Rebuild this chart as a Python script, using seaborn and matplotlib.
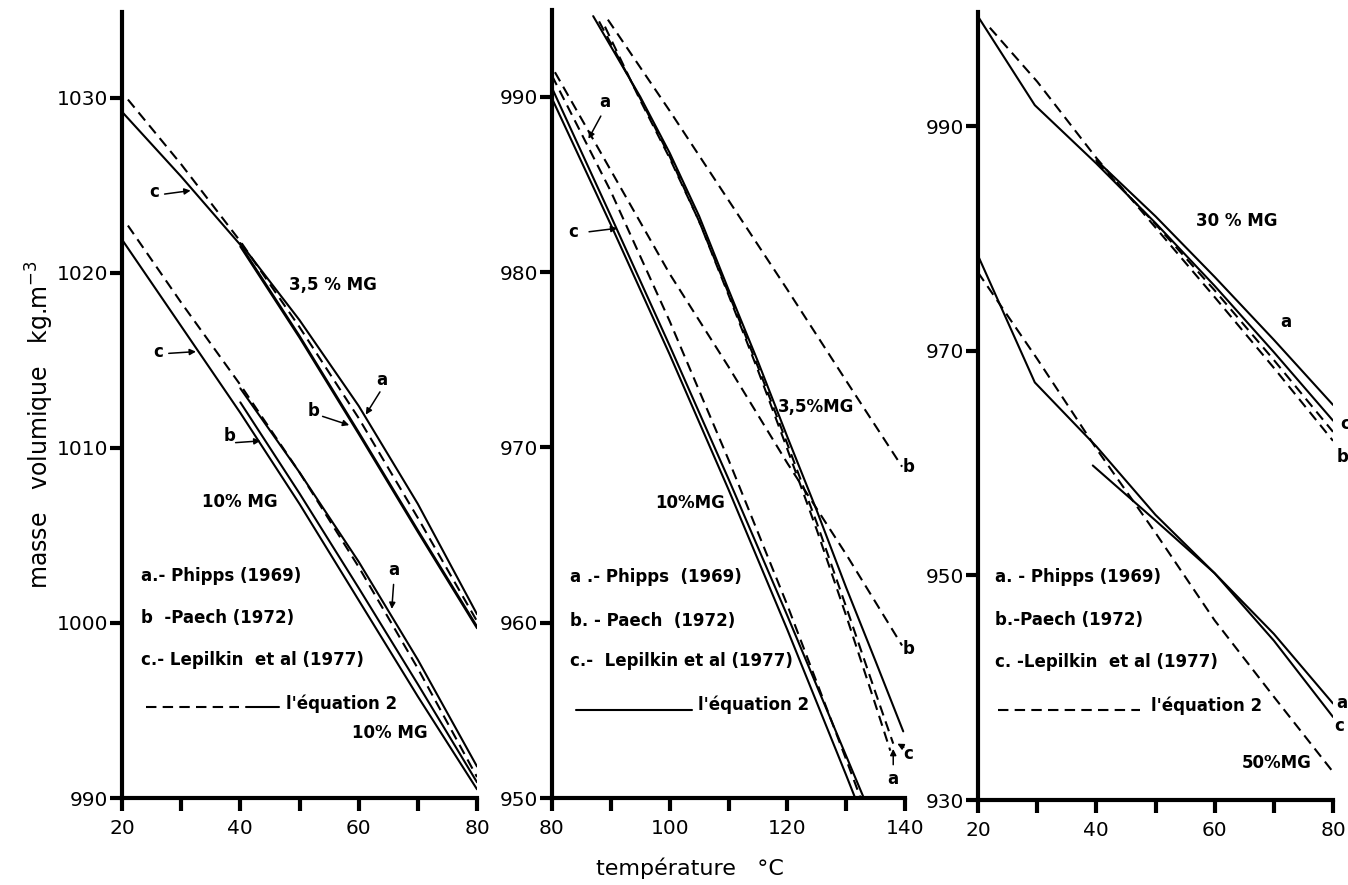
import matplotlib
matplotlib.use("Agg")
import matplotlib.pyplot as plt
import seaborn as sns

# ---------------- data ----------------
# Panel 1 : 20-80 °C, 3,5 % MG and 10 % MG
p1_35_eq2_T = [21, 30, 40, 50, 60, 70, 80]
p1_35_eq2_rho = [1029.9, 1026.2, 1021.8, 1016.9, 1011.7, 1006.0, 1000.1]
p1_35_a_T = [40, 50, 60, 70, 80]
p1_35_a_rho = [1021.7, 1017.3, 1012.4, 1006.8, 1000.5]
p1_35_b_T = [40, 50, 60, 70, 80]
p1_35_b_rho = [1021.5, 1016.3, 1010.8, 1005.2, 999.7]
p1_35_c_T = [20, 30, 40, 50, 60, 70, 80]
p1_35_c_rho = [1029.2, 1025.5, 1021.6, 1016.4, 1010.9, 1005.3, 999.8]

p1_10_eq2_T = [21, 30, 40, 50, 60, 70, 80]
p1_10_eq2_rho = [1022.7, 1018.3, 1013.6, 1008.6, 1003.2, 997.4, 991.2]
p1_10_a_T = [40, 50, 60, 70, 80]
p1_10_a_rho = [1013.4, 1008.6, 1003.5, 997.9, 991.8]
p1_10_b_T = [40, 50, 60, 70, 80]
p1_10_b_rho = [1012.6, 1007.4, 1002.0, 996.5, 990.9]
p1_10_c_T = [20, 29.5, 40, 50, 60, 70, 80]
p1_10_c_rho = [1021.9, 1017.2, 1012.0, 1006.8, 1001.3, 995.8, 990.5]

# Panel 2 : 80-140 °C, 3,5 % MG and 10 % MG
p2_35_eq2_T = [87, 95, 100, 105, 110, 115, 120, 125, 130, 135, 139.7]
p2_35_eq2_rho = [994.6, 990.0, 986.8, 983.2, 979.0, 974.9, 970.6, 966.4, 962.0, 957.8, 953.8]
p2_35_a_T = [88, 95, 100, 105, 110, 115, 120, 125, 130, 135, 137.5]
p2_35_a_rho = [994.3, 989.9, 986.6, 982.9, 978.7, 974.4, 969.9, 965.3, 960.4, 955.3, 952.7]
p2_35_c_T = [89, 95, 100, 105, 110, 115, 120, 125, 130, 135, 138]
p2_35_c_rho = [994.0, 989.8, 986.5, 982.9, 978.8, 974.6, 970.2, 965.7, 960.9, 956.0, 953.1]
p2_35_b_T = [89.5, 100, 110, 120, 130, 139.5]
p2_35_b_rho = [994.4, 989.2, 984.1, 979.0, 973.8, 968.9]

p2_10_eq2_T = [80, 90, 100, 110, 120, 130, 132]
p2_10_eq2_rho = [989.9, 982.7, 975.3, 967.6, 959.6, 951.3, 949.6]
p2_10_c_T = [80, 90, 100, 110, 120, 130, 134]
p2_10_c_rho = [990.5, 983.2, 975.8, 968.2, 960.4, 952.4, 949.2]
p2_10_a_T = [80, 90, 100, 110, 120, 130, 133]
p2_10_a_rho = [991.2, 984.6, 977.2, 969.3, 961.0, 952.2, 949.5]
p2_10_b_T = [80.5, 90, 100, 110, 120, 130, 139.5]
p2_10_b_rho = [991.4, 985.8, 979.9, 974.6, 969.1, 963.9, 958.7]

# Panel 3 : 20-80 °C, 30 % MG and 50 % MG
p3_30_eq2_T = [22, 30, 40, 50, 60, 70, 80]
p3_30_eq2_rho = [998.8, 994.0, 987.2, 981.0, 974.8, 968.5, 962.0]
p3_30_a_T = [40, 50, 60, 70, 80]
p3_30_a_rho = [987.0, 982.0, 976.6, 971.0, 965.2]
p3_30_b_T = [40, 50, 60, 70, 80]
p3_30_b_rho = [986.9, 981.3, 975.4, 969.2, 962.8]
p3_30_c_T = [20, 29.6, 40, 50, 60, 70, 80]
p3_30_c_rho = [999.8, 991.9, 986.7, 981.4, 975.8, 969.9, 963.8]

p3_50_eq2_T = [20, 30, 40, 50, 60, 70, 80]
p3_50_eq2_rho = [977.0, 969.3, 961.3, 953.8, 946.0, 939.2, 932.5]
p3_50_a_T = [39.4, 50, 60, 70, 80]
p3_50_a_rho = [959.8, 954.9, 950.2, 944.8, 938.6]
p3_50_c_T = [20, 29.6, 40, 50, 60, 70, 80]
p3_50_c_rho = [978.5, 967.2, 961.5, 955.4, 950.2, 944.2, 937.4]

# ticks
p1_xticks = [20, 40, 60, 80]
p1_xminor = [30, 50, 70]
p1_yticks = [990, 1000, 1010, 1020, 1030]
p2_xticks = [80, 100, 120, 140]
p2_xminor = [90, 110, 130]
p2_yticks = [950, 960, 970, 980, 990]
p3_xticks = [20, 40, 60, 80]
p3_xminor = [30, 50, 70]
p3_yticks = [930, 950, 970, 990]

# ---------------- style ----------------
sns.set_style("ticks")
plt.rcParams["font.family"] = ["DejaVu Sans"]
plt.rcParams["text.color"] = "black"
plt.rcParams["xtick.labelcolor"] = "black"
plt.rcParams["ytick.labelcolor"] = "black"

W, H = 1348, 885
fig = plt.figure(figsize=(W / 100, H / 100), dpi=100)
fig.patch.set_facecolor("white")

def add_ax(left, right, bottom, top):
    return fig.add_axes([left / W, 1 - bottom / H, (right - left) / W, (bottom - top) / H])

ax1 = add_ax(122, 477, 798, 12)
ax2 = add_ax(552, 905, 798, 10)
ax3 = add_ax(978, 1333, 800, 12)

SOLID = "-"
DASH = (0, (5, 3))
LW = 1.5

def draw(ax, T, rho, ls):
    sns.lineplot(x=T, y=rho, ax=ax, color="black", linewidth=LW,
                 linestyle=ls, sort=False, estimator=None)

# panel 1: eq2 dashed, data solid
for T, r, ls in [(p1_35_eq2_T, p1_35_eq2_rho, DASH), (p1_35_a_T, p1_35_a_rho, SOLID),
                 (p1_35_b_T, p1_35_b_rho, SOLID), (p1_35_c_T, p1_35_c_rho, SOLID),
                 (p1_10_eq2_T, p1_10_eq2_rho, DASH), (p1_10_a_T, p1_10_a_rho, SOLID),
                 (p1_10_b_T, p1_10_b_rho, SOLID), (p1_10_c_T, p1_10_c_rho, SOLID)]:
    draw(ax1, T, r, ls)

# panel 2: eq2 solid, data dashed
for T, r, ls in [(p2_35_eq2_T, p2_35_eq2_rho, SOLID), (p2_35_a_T, p2_35_a_rho, DASH),
                 (p2_35_c_T, p2_35_c_rho, DASH), (p2_35_b_T, p2_35_b_rho, DASH),
                 (p2_10_eq2_T, p2_10_eq2_rho, SOLID), (p2_10_c_T, p2_10_c_rho, SOLID),
                 (p2_10_a_T, p2_10_a_rho, DASH), (p2_10_b_T, p2_10_b_rho, DASH)]:
    draw(ax2, T, r, ls)

# panel 3: eq2 dashed, data solid
for T, r, ls in [(p3_30_eq2_T, p3_30_eq2_rho, DASH), (p3_30_a_T, p3_30_a_rho, SOLID),
                 (p3_30_b_T, p3_30_b_rho, DASH), (p3_30_c_T, p3_30_c_rho, SOLID),
                 (p3_50_eq2_T, p3_50_eq2_rho, DASH), (p3_50_a_T, p3_50_a_rho, SOLID),
                 (p3_50_c_T, p3_50_c_rho, SOLID)]:
    draw(ax3, T, r, ls)

def style_axis(ax, xlim, ylim, xt, xm, yt):
    ax.set_xlim(*xlim)
    ax.set_ylim(*ylim)
    ax.set_xticks(xt)
    ax.set_xticks(xm, minor=True)
    ax.set_yticks(yt)
    ax.set_xticklabels([str(v) for v in xt])
    ax.set_yticklabels([str(v) for v in yt])
    for s in ["top", "right"]:
        ax.spines[s].set_visible(False)
    for s in ["left", "bottom"]:
        ax.spines[s].set_linewidth(3)
        ax.spines[s].set_color("black")
    ax.tick_params(axis="both", which="both", direction="out", length=9, width=3,
                   color="black", labelsize=14.5, labelcolor="black")
    ax.tick_params(axis="y", pad=1)
    ax.tick_params(axis="x", pad=6)
    ax.set_xlabel("")
    ax.set_ylabel("")
    ax.set_facecolor("white")
    ax.grid(False)

style_axis(ax1, (20, 80), (990, 1034.9), p1_xticks, p1_xminor, p1_yticks)
style_axis(ax2, (80, 140), (950, 994.95), p2_xticks, p2_xminor, p2_yticks)
style_axis(ax3, (20, 80), (930, 1000.2), p3_xticks, p3_xminor, p3_yticks)

TXT = dict(fontsize=12, fontweight="bold", color="black")
LEG = dict(fontsize=12, fontweight="bold", color="black", va="center", ha="left")
ARW = dict(arrowstyle="-|>", color="black", lw=1.1, mutation_scale=9, shrinkA=0, shrinkB=0)

def arrow(ax, tail, tip):
    ax.annotate("", xy=tip, xytext=tail, arrowprops=ARW)

# ---- panel 1 annotations
ax1.text(55.7, 1019.3, "3,5 % MG", ha="center", va="center", **TXT)
ax1.text(39.9, 1006.9, "10% MG", ha="center", va="center", **TXT)
ax1.text(65.2, 993.7, "10% MG", ha="center", va="center", **TXT)
ax1.text(25.4, 1024.6, "c", ha="center", va="center", **TXT)
arrow(ax1, (27.2, 1024.5), (31.6, 1024.7))
ax1.text(26.1, 1015.5, "c", ha="center", va="center", **TXT)
arrow(ax1, (27.9, 1015.4), (32.5, 1015.5))
ax1.text(38.2, 1010.7, "b", ha="center", va="center", **TXT)
arrow(ax1, (39.2, 1010.3), (43.4, 1010.4))
ax1.text(52.4, 1012.1, "b", ha="center", va="center", **TXT)
arrow(ax1, (53.9, 1011.8), (58.4, 1011.3))
ax1.text(63.9, 1013.9, "a", ha="center", va="center", **TXT)
arrow(ax1, (63.6, 1013.2), (61.2, 1011.9))
ax1.text(65.9, 1003.0, "a", ha="center", va="center", **TXT)
arrow(ax1, (65.9, 1002.2), (65.6, 1000.8))
ax1.text(23.2, 1002.7, "a.- Phipps (1969)", **LEG)
ax1.text(23.2, 1000.3, "b  -Paech (1972)", **LEG)
ax1.text(23.2, 997.9, "c.- Lepilkin  et al (1977)", **LEG)
ax1.plot([24.0, 39.7], [995.2, 995.2], color="black", lw=LW, linestyle=DASH)
ax1.plot([40.9, 46.5], [995.2, 995.2], color="black", lw=LW, linestyle=SOLID)
ax1.text(47.8, 995.4, "l'équation 2", **LEG)

# ---- panel 2 annotations
ax2.text(124.8, 972.3, "3,5%MG", ha="center", va="center", **TXT)
ax2.text(103.5, 966.8, "10%MG", ha="center", va="center", **TXT)
ax2.text(88.9, 989.7, "a", ha="center", va="center", **TXT)
arrow(ax2, (88.3, 988.9), (86.2, 987.6))
ax2.text(83.6, 982.3, "c", ha="center", va="center", **TXT)
arrow(ax2, (86.3, 982.3), (91.1, 982.5))
ax2.text(140.6, 968.9, "b", ha="center", va="center", **TXT)
ax2.text(140.6, 958.5, "b", ha="center", va="center", **TXT)
ax2.text(140.6, 952.5, "c", ha="center", va="center", **TXT)
arrow(ax2, (139.8, 952.9), (138.7, 953.1))
ax2.text(138.0, 951.1, "a", ha="center", va="center", **TXT)
arrow(ax2, (138.0, 951.9), (138.0, 952.8))
ax2.text(83.1, 962.6, "a .- Phipps  (1969)", **LEG)
ax2.text(83.1, 960.1, "b. - Paech  (1972)", **LEG)
ax2.text(83.1, 957.8, "c.-  Lepilkin et al (1977)", **LEG)
ax2.plot([84.1, 103.8], [955.0, 955.0], color="black", lw=LW, linestyle=SOLID)
ax2.text(104.9, 955.3, "l'équation 2", **LEG)

# ---- panel 3 annotations
ax3.text(63.8, 981.6, "30 % MG", ha="center", va="center", **TXT)
ax3.text(72.0, 972.6, "a", ha="center", va="center", **TXT)
ax3.text(82.0, 963.5, "c", ha="center", va="center", **TXT)
arrow(ax3, (81.3, 963.9), (80.2, 964.2))
ax3.text(81.6, 960.6, "b", ha="center", va="center", **TXT)
arrow(ax3, (81.0, 961.6), (80.4, 962.5))
ax3.text(81.5, 938.6, "a", ha="center", va="center", **TXT)
ax3.text(81.1, 936.6, "c", ha="center", va="center", **TXT)
ax3.text(70.5, 933.3, "50%MG", ha="center", va="center", **TXT)
ax3.text(22.9, 949.9, "a. - Phipps (1969)", **LEG)
ax3.text(22.9, 946.0, "b.-Paech (1972)", **LEG)
ax3.text(22.9, 942.3, "c. -Lepilkin  et al (1977)", **LEG)
ax3.plot([23.4, 47.3], [938.0, 938.0], color="black", lw=LW, linestyle=DASH)
ax3.text(49.2, 938.4, "l'équation 2", **LEG)

# axis titles
fig.text(40 / W, 1 - 425 / H, "masse   volumique   kg.m$^{-3}$", rotation=90,
         ha="center", va="center", fontsize=17, color="black")
fig.text(690 / W, 1 - 868 / H, "température   °C", ha="center", va="center",
         fontsize=16, color="black")

fig.savefig("out.png", dpi=100, facecolor="white")
